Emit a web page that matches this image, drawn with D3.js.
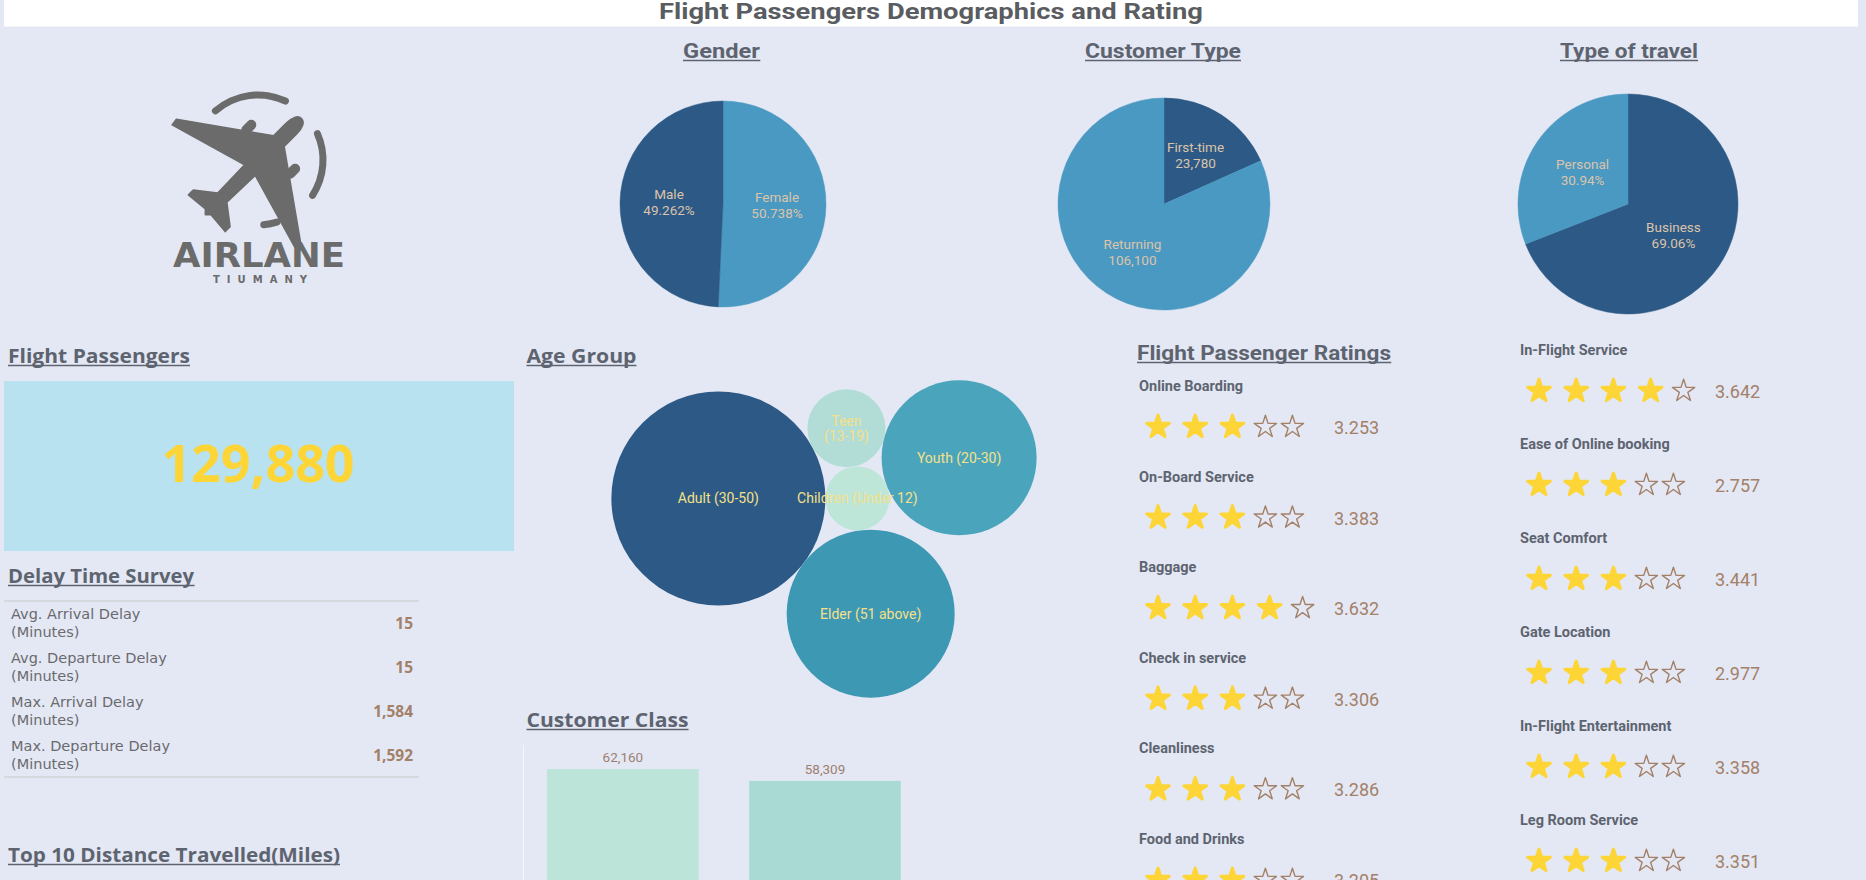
<!DOCTYPE html>
<html><head><meta charset="utf-8">
<script src="https://cdn.jsdelivr.net/npm/d3@7"></script>
<style>
html,body{margin:0;padding:0;background:#e4e8f4;overflow:hidden;}
svg{display:block;}
</style></head>
<body><svg id="c" width="1866" height="880"></svg>
<script>
// ---------------- DATA ----------------
const mainTitle = "Flight Passengers Demographics and Rating";
const genderLabels = ["Female", "Male"];
const genderValues = [50.738, 49.262];
const customerTypeLabels = ["First-time", "Returning"];
const customerTypeValues = [23780, 106100];
const travelTypeLabels = ["Business", "Personal"];
const travelTypeValues = [69.06, 30.94];
const totalPassengers = 129880;
const delayLabels = [["Avg. Arrival Delay", "(Minutes)"], ["Avg. Departure Delay", "(Minutes)"], ["Max. Arrival Delay", "(Minutes)"], ["Max. Departure Delay", "(Minutes)"]];
const delayValues = [15, 15, 1584, 1592];
const ageGroups = ["Adult (30-50)", "Children (Under 12)", "Elder (51 above)", "Teen (13-19)", "Youth (20-30)"];
const ageLabelLines = [["Adult (30-50)"], ["Children (Under 12)"], ["Elder (51 above)"], ["Teen", "(13-19)"], ["Youth (20-30)"]];
const ageValues = [54950, 4920, 33870, 7300, 28840];
const classNames = ["Business", "Economy", "Economy Plus"];
const classValues = [62160, 58309, 9411];
const ratingLeftLabels = ["Online Boarding", "On-Board Service", "Baggage", "Check in service", "Cleanliness", "Food and Drinks"];
const ratingLeftValues = [3.253, 3.383, 3.632, 3.306, 3.286, 3.205];
const ratingRightLabels = ["In-Flight Service", "Ease of Online booking", "Seat Comfort", "Gate Location", "In-Flight Entertainment", "Leg Room Service"];
const ratingRightValues = [3.642, 2.757, 3.441, 2.977, 3.358, 3.351];

// ---------------- STYLE ----------------
const W = 1866, H = 880;
const BG = "#e4e8f4", TITLE = "#5d6470", DARK = "#2c5985", LIGHT = "#4a99c2";
const PIE_TXT = "#dcc4aa", BROWN = "#a38068", YELLOW = "#fdd537";
const COND = "Roboto, 'Liberation Sans', sans-serif";
const WIDE = "'Open Sans', 'DejaVu Sans', sans-serif";
const DEJA = "'DejaVu Sans', 'Open Sans', sans-serif";

const svg = d3.select("#c");
svg.append("rect").attr("width", W).attr("height", H).attr("fill", BG);

function title(x, y, text, size, font, width, anchor) {
  const t = svg.append("text").attr("x", x).attr("y", y).attr("text-anchor", anchor || "start")
    .attr("font-family", font).attr("font-size", size).attr("font-weight", 700)
    .attr("fill", TITLE).text(text);
  if (width) t.attr("textLength", width).attr("lengthAdjust", "spacingAndGlyphs");
  const bb = t.node().getBBox();
  svg.append("line").attr("x1", bb.x).attr("x2", bb.x + bb.width)
    .attr("y1", y + 2.5).attr("y2", y + 2.5).attr("stroke", TITLE).attr("stroke-width", 1.4);
}

// ---------------- HEADER ----------------
svg.append("rect").attr("x", 4).attr("y", 0).attr("width", 1854).attr("height", 26.5).attr("fill", "#ffffff");
svg.append("text").attr("x", 931).attr("y", 18.5).attr("text-anchor", "middle")
  .attr("font-family", COND).attr("font-size", 22).attr("font-weight", 700).attr("fill", "#595c60")
  .attr("textLength", 544).attr("lengthAdjust", "spacingAndGlyphs").text(mainTitle);

// ---------------- LOGO ----------------
const logo = svg.append("g");
const LG = "#6b6b6b";
const ring = d3.arc().innerRadius(61.5).outerRadius(68.5).cornerRadius(3.5);
const deg = Math.PI / 180;
[[-44, 28], [63, 126], [160, 178]].forEach(([a0, a1]) => {
  logo.append("path").attr("transform", "translate(258,160)")
    .attr("d", ring({startAngle: a0 * deg, endAngle: a1 * deg})).attr("fill", LG);
});
const plane = logo.append("g").attr("transform", "translate(252,168) rotate(45)");
plane.append("path").attr("fill", LG).attr("stroke", LG).attr("stroke-width", 1.5).attr("stroke-linejoin", "round")
  .attr("d", "M0,-70 C5,-70 7.5,-64 7.5,-56 L7.5,-38 L88,19 L87,26 L7.5,3 L6.5,42 L26,57 L26,64 L4,62 L0,66 L-4,62 L-26,64 L-26,57 L-6.5,42 L-7.5,3 L-87,26 L-88,19 L-7.5,-38 L-7.5,-56 C-7.5,-64 -5,-70 0,-70 Z");
[-31, 31].forEach(ex => plane.append("rect").attr("x", ex - 5).attr("y", -35).attr("width", 10).attr("height", 17).attr("rx", 5).attr("fill", LG));
logo.append("text").attr("x", 259).attr("y", 267).attr("text-anchor", "middle")
  .attr("font-family", DEJA).attr("font-weight", 700).attr("font-size", 33).attr("fill", LG)
  .attr("textLength", 172).attr("lengthAdjust", "spacingAndGlyphs").text("AIRLANE");
logo.append("text").attr("x", 260).attr("y", 283).attr("text-anchor", "middle")
  .attr("font-family", DEJA).attr("font-weight", 700).attr("font-size", 10).attr("fill", LG)
  .attr("textLength", 94).attr("lengthAdjust", "spacing").text("TIUMANY");

// ---------------- PIES ----------------
function drawPie(cx, cy, r, labelR, labels, values, colors, fmt) {
  const data = labels.map((l, i) => ({label: l, value: values[i], color: colors[i]}));
  const arcs = d3.pie().sort(null).value(d => d.value)(data);
  const arc = d3.arc().innerRadius(0).outerRadius(r);
  const lab = d3.arc().innerRadius(labelR).outerRadius(labelR);
  const g = svg.append("g").attr("transform", `translate(${cx},${cy})`);
  g.selectAll("path").data(arcs).join("path").attr("d", arc).attr("fill", d => d.data.color)
    .attr("stroke", d => d.data.color).attr("stroke-width", 0.5);
  const t = g.selectAll("text").data(arcs).join("text")
    .attr("transform", d => `translate(${lab.centroid(d)})`).attr("text-anchor", "middle")
    .attr("font-family", COND).attr("font-size", 13.5).attr("fill", PIE_TXT);
  t.append("tspan").attr("x", 0).attr("y", -3.5).text(d => d.data.label);
  t.append("tspan").attr("x", 0).attr("y", 12.5).text(d => fmt(d.data.value));
}
title(721.5, 58, "Gender", 21, COND, 77, "middle");
title(1163, 58, "Customer Type", 21, COND, 156, "middle");
title(1629, 58, "Type of travel", 21, COND, 138, "middle");
drawPie(723, 204, 103, 54, genderLabels, genderValues, [LIGHT, DARK], v => d3.format(".3f")(v) + "%");
drawPie(1164, 204, 106, 58, customerTypeLabels, customerTypeValues, [DARK, LIGHT], d3.format(","));
drawPie(1628, 204, 110, 55, travelTypeLabels, travelTypeValues, [DARK, LIGHT], v => d3.format(".2f")(v) + "%");

// ---------------- KPI ----------------
title(8, 363, "Flight Passengers", 20, WIDE, 182);
svg.append("rect").attr("x", 4).attr("y", 381).attr("width", 510).attr("height", 170).attr("fill", "#b8e2f0");
svg.append("text").attr("x", 258).attr("y", 482).attr("text-anchor", "middle")
  .attr("font-family", WIDE).attr("font-weight", 700).attr("font-size", 52).attr("fill", YELLOW)
  .text(d3.format(",")(totalPassengers));

// ---------------- DELAY TABLE ----------------
title(8, 583, "Delay Time Survey", 20, WIDE, 186);
const rowY = d3.scaleBand().domain(d3.range(delayValues.length)).range([601, 777]);
svg.append("line").attr("x1", 4).attr("x2", 419).attr("y1", 601).attr("y2", 601).attr("stroke", "#c9c9cc");
svg.append("line").attr("x1", 4).attr("x2", 419).attr("y1", 777).attr("y2", 777).attr("stroke", "#c9c9cc");
delayValues.forEach((v, i) => {
  const cy = rowY(i) + rowY.bandwidth() / 2;
  const t = svg.append("text").attr("font-family", DEJA).attr("font-size", 14.5).attr("fill", "#6a6a6e");
  t.append("tspan").attr("x", 11).attr("y", cy - 4).text(delayLabels[i][0]);
  t.append("tspan").attr("x", 11).attr("y", cy + 14).text(delayLabels[i][1]);
  svg.append("text").attr("x", 413).attr("y", cy + 6).attr("text-anchor", "end")
    .attr("font-family", WIDE).attr("font-weight", 700).attr("font-size", 15.5).attr("fill", BROWN)
    .text(d3.format(",")(v));
});
title(8, 862, "Top 10 Distance Travelled(Miles)", 20, WIDE, 332);

// ---------------- AGE GROUP BUBBLES ----------------
title(526.5, 363, "Age Group", 20, WIDE, 110);
const rScale = d3.scaleSqrt().domain([0, d3.max(ageValues)]).range([0, 107]);
const ageColor = d3.scaleOrdinal().domain(ageGroups).range(["#2c5985", "#bde6d8", "#3d98b4", "#b2ddd6", "#4aa5bc"]);
const nodes = ageGroups.map((g, i) => ({name: g, lines: ageLabelLines[i], value: ageValues[i], r: rScale(ageValues[i])}));
function tangent(A, B, r, side) {
  const da = A.r + r, db = B.r + r;
  const dx = B.x - A.x, dy = B.y - A.y, d = Math.hypot(dx, dy);
  const a = (da * da - db * db + d * d) / (2 * d);
  const h = Math.sqrt(Math.max(0, da * da - a * a));
  const ux = dx / d, uy = dy / d;
  return {x: A.x + a * ux - side * h * uy, y: A.y + a * uy + side * h * ux};
}
const [adult, children, elder, teen, youth] = nodes;
adult.x = 0; adult.y = 0;
children.x = adult.r + children.r; children.y = 0;
Object.assign(elder, tangent(adult, children, elder.r, 1));
Object.assign(teen, tangent(adult, children, teen.r, -1));
Object.assign(youth, tangent(teen, children, youth.r, -1));
const bx0 = d3.min(nodes, d => d.x - d.r), bx1 = d3.max(nodes, d => d.x + d.r);
const by0 = d3.min(nodes, d => d.y - d.r), by1 = d3.max(nodes, d => d.y + d.r);
const bubbles = svg.append("g").attr("transform", `translate(${824 - (bx0 + bx1) / 2},${539 - (by0 + by1) / 2})`);
bubbles.selectAll("circle").data(nodes).join("circle")
  .attr("cx", d => d.x).attr("cy", d => d.y).attr("r", d => d.r).attr("fill", d => ageColor(d.name));
bubbles.selectAll("text").data(nodes).join("text")
  .attr("text-anchor", "middle").attr("font-family", COND).attr("font-size", 14).attr("fill", "#f5e08a")
  .each(function (d) {
    const n = d.lines.length;
    d.lines.forEach((l, k) => d3.select(this).append("tspan").attr("x", d.x)
      .attr("y", d.y + 5 + (k - (n - 1) / 2) * 15.5).text(l));
  });

// ---------------- CUSTOMER CLASS BARS ----------------
title(526.5, 727, "Customer Class", 20, WIDE, 162);
const xb = d3.scaleBand().domain(classNames).range([523, 1127]).paddingInner(0.25).paddingOuter(0.119);
const yb = d3.scaleLinear().domain([0, 70000]).range([960, 745]);
const barColor = d3.scaleOrdinal().domain(classNames).range(["#bde4d9", "#a9dad4", "#94cfca"]);
svg.append("line").attr("x1", 523.5).attr("x2", 523.5).attr("y1", yb.range()[1]).attr("y2", yb.range()[0]).attr("stroke", "#f6f7fa");
svg.selectAll(".bar").data(classNames).join("rect").attr("class", "bar")
  .attr("x", d => xb(d)).attr("width", xb.bandwidth())
  .attr("y", (d, i) => yb(classValues[i])).attr("height", (d, i) => yb(0) - yb(classValues[i]))
  .attr("fill", d => barColor(d));
// value labels (only those falling inside the visible dashboard area)
const visibleBars = classNames.filter((d, i) => yb(classValues[i]) - 7 < H - 4);
svg.selectAll(".blab").data(visibleBars).join("text").attr("class", "blab")
  .attr("x", d => xb(d) + xb.bandwidth() / 2).attr("y", d => yb(classValues[classNames.indexOf(d)]) - 7)
  .attr("text-anchor", "middle").attr("font-family", COND).attr("font-size", 13.5).attr("fill", "#9e8070")
  .text(d => d3.format(",")(classValues[classNames.indexOf(d)]));

// ---------------- RATINGS ----------------
title(1137, 360, "Flight Passenger Ratings", 21, COND, 254);
const starFull = d3.symbol().type(d3.symbolStar).size(160)();
const starEmpty = d3.symbol().type(d3.symbolStar).size(155)();
function ratingColumn(labels, values, x0, yRange, valueX) {
  const y = d3.scalePoint().domain(labels).range(yRange);
  labels.forEach((lab, i) => {
    const sy = y(lab);
    svg.append("text").attr("x", x0 - 19).attr("y", sy - 36)
      .attr("font-family", COND).attr("font-weight", 700).attr("font-size", 14.5).attr("fill", TITLE).text(lab);
    const n = Math.round(values[i]);
    for (let k = 0; k < 5; k++) {
      const filled = k < n;
      const sx = filled ? x0 + k * 37.2 : x0 + (n - 1) * 37.2 + 33 + (k - n) * 27;
      svg.append("path").attr("transform", `translate(${sx},${sy})`)
        .attr("d", filled ? starFull : starEmpty)
        .attr("fill", filled ? YELLOW : "none")
        .attr("stroke", filled ? YELLOW : BROWN)
        .attr("stroke-width", filled ? 3 : 1.4)
        .attr("stroke-linejoin", "round");
    }
    svg.append("text").attr("x", valueX).attr("y", sy + 7)
      .attr("font-family", COND).attr("font-size", 18).attr("fill", BROWN).text(d3.format(".3f")(values[i]));
  });
}
ratingColumn(ratingLeftLabels, ratingLeftValues, 1158, [427, 880], 1334);
ratingColumn(ratingRightLabels, ratingRightValues, 1539, [391, 861], 1715);
</script>
</body></html>
